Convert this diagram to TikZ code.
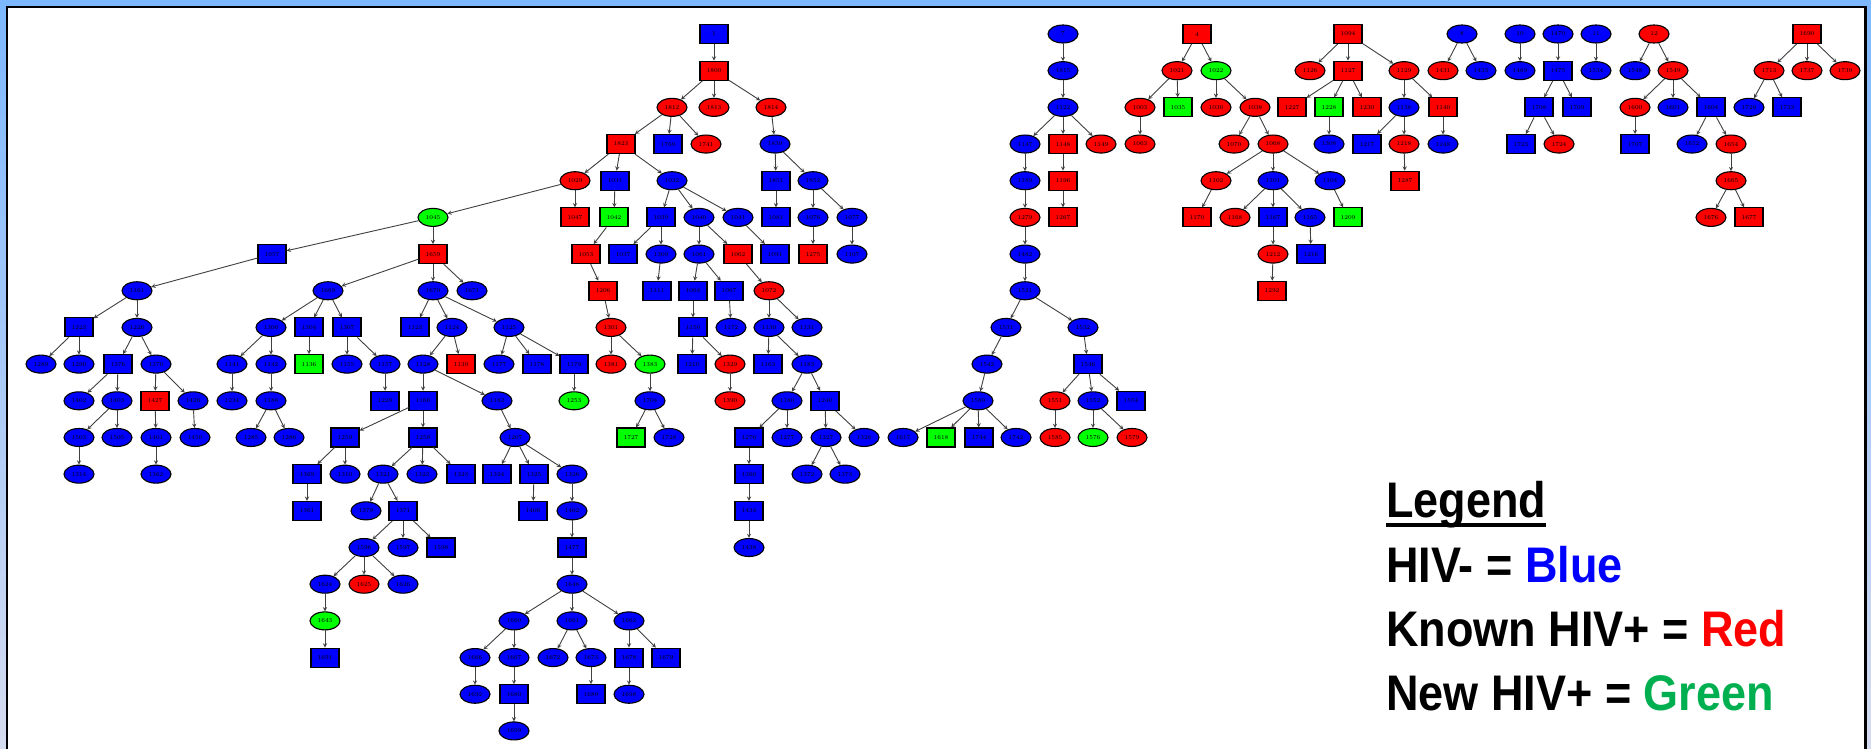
\documentclass[tikz,border=0pt]{standalone}
\usepackage{fontspec}
\newfontfamily\legfont[FakeStretch=0.9]{Liberation Sans}
\usetikzlibrary{shapes.geometric}
\definecolor{hneg}{RGB}{0,0,255}
\definecolor{hpos}{RGB}{255,0,0}
\definecolor{hnew}{RGB}{0,255,0}
\definecolor{legnew}{RGB}{0,176,80}
\definecolor{frametop}{RGB}{125,184,255}
\definecolor{framebot}{RGB}{214,220,240}
\tikzset{
  nd/.style={draw=black,line width=1.1pt,inner sep=0pt,font=\fontsize{6}{6}\selectfont},
  bx/.style={nd,rectangle,minimum width=28pt,minimum height=19pt},
  el/.style={nd,ellipse,minimum width=30pt,minimum height=18pt},
  bb/.style={bx,fill=hneg}, br/.style={bx,fill=hpos}, bg/.style={bx,fill=hnew},
  eb/.style={el,fill=hneg}, er/.style={el,fill=hpos}, eg/.style={el,fill=hnew},
  lnk/.style={->,draw=black!75,line width=0.9pt},
  legtxt/.style={anchor=base west,inner sep=0pt,font=\legfont\bfseries\fontsize{50}{50}\selectfont}
}
\begin{document}
\begin{tikzpicture}[x=1pt,y=-1pt,>=stealth]
\useasboundingbox (0,0) rectangle (1871,749);
% 边框
\shade[top color=frametop,bottom color=framebot] (0,0) rectangle (1871,749);
\fill[white] (7,7) rectangle (1865.5,760);
\draw[line width=2.6pt] (7,760) -- (7,7) -- (1865.5,7) -- (1865.5,760);
% 主树
\foreach \nm/\x/\lv/\st in {
  1/714/0/bb, 1800/714/1/br,
  1812/672/2/er, 1813/714/2/er, 1814/771/2/er,
  1823/621/3/br, 1769/668/3/bb, 1741/706/3/er, 1839/775/3/eb,
  1029/575/4/er, 1031/615/4/bb, 1032/672/4/eb, 1851/776/4/bb, 1852/813/4/eb,
  1045/433/5/eg, 1047/575/5/br, 1042/614/5/bg, 1039/661/5/bb, 1040/699/5/eb,
  1041/738/5/eb, 1081/776/5/bb, 1076/813/5/eb, 1077/852/5/eb,
  1057/272/6/bb, 1659/433/6/br, 1053/586/6/br, 1037/623/6/bb, 1309/661/6/eb,
  1061/699/6/eb, 1062/738/6/br, 1091/775/6/bb, 1275/813/6/br, 1107/852/6/eb,
  1161/137/7/eb, 1669/328/7/eb, 1670/433/7/eb, 1671/472/7/eb, 1206/603/7/br,
  1111/657/7/bb, 1064/693/7/bb, 1067/729/7/bb, 1072/769/7/er,
  1223/79/8/bb, 1226/137/8/eb, 1300/271/8/eb, 1304/309/8/bb, 1307/347/8/bb,
  1123/415/8/bb, 1124/452/8/eb, 1125/509/8/eb, 1301/611/8/er, 1150/693/8/bb,
  1172/731/8/eb, 1130/769/8/eb, 1131/807/8/eb,
  1289/41/9/eb, 1290/79/9/eb, 1376/118/9/bb, 1370/156/9/eb, 1141/232/9/eb,
  1142/271/9/eb, 1136/309/9/bg, 1155/347/9/eb, 1157/385/9/eb, 1128/423/9/eb,
  1139/461/9/br, 1177/499/9/eb, 1178/537/9/bb, 1179/574/9/bb, 1381/611/9/er,
  1383/650/9/eg, 1210/692/9/bb, 1329/730/9/er, 1163/768/9/bb, 1183/807/9/eb,
  1402/79/10/eb, 1403/117/10/eb, 1427/155/10/br, 1426/193/10/eb, 1234/232/10/eb,
  1188/271/10/eb, 1229/385/10/bb, 1166/423/10/bb, 1182/497/10/eb, 1253/574/10/eg,
  1704/650/10/eb, 1390/730/10/er, 1180/787/10/eb, 1240/825/10/bb,
  1503/79/11/eb, 1505/117/11/eb, 1401/156/11/eb, 1450/195/11/eb, 1285/251/11/eb,
  1286/289/11/eb, 1259/345/11/bb, 1258/423/11/bb, 1207/515/11/eb, 1727/631/11/bg,
  1728/669/11/eb, 1276/749/11/bb, 1277/787/11/eb, 1327/826/11/eb, 1328/864/11/eb,
  1314/79/12/eb, 1362/156/12/eb, 1369/307/12/bb, 1310/345/12/eb, 1321/383/12/eb,
  1322/422/12/eb, 1323/461/12/bb, 1324/497/12/bb, 1325/534/12/bb, 1326/572/12/eb,
  1360/749/12/bb, 1372/807/12/eb, 1373/845/12/eb,
  1361/307/13/bb, 1379/366/13/eb, 1371/403/13/bb, 1406/533/13/bb, 1462/572/13/eb,
  1434/749/13/bb,
  1596/364/14/eb, 1597/403/14/eb, 1598/441/14/bb, 1477/572/14/bb, 1438/749/14/eb,
  1624/325/15/eb, 1625/364/15/er, 1626/403/15/eb, 1648/572/15/eb,
  1643/325/16/eg, 1660/514/16/eb, 1661/572/16/eb, 1662/629/16/eb,
  1691/325/17/bb, 1666/475/17/eb, 1667/514/17/eb, 1672/553/17/eb, 1673/591/17/eb,
  1678/629/17/bb, 1679/666/17/bb,
  1692/475/18/eb, 1680/514/18/bb, 1689/591/18/bb, 1698/629/18/eb,
  1699/514/19/eb,
  % 右侧各树
  7/1063/0/eb, 1815/1063/1/eb, 1122/1063/2/eb,
  1147/1025/3/eb, 1148/1063/3/br, 1149/1101/3/er,
  1189/1025/4/eb, 1196/1063/4/br, 1279/1025/5/er, 1267/1063/5/br,
  1482/1025/6/eb, 1521/1025/7/eb, 1531/1006/8/eb, 1532/1083/8/eb,
  1542/987/9/eb, 1546/1088/9/bb,
  1580/978/10/eb, 1551/1055/10/er, 1552/1093/10/eb, 1554/1131/10/bb,
  1617/903/11/eb, 1618/941/11/bg, 1744/979/11/bb, 1742/1016/11/eb,
  1585/1055/11/er, 1576/1093/11/eg, 1579/1132/11/er,
  4/1197/0/br, 1021/1177/1/er, 1022/1216/1/eg,
  1003/1140/2/er, 1035/1178/2/bg, 1030/1216/2/er, 1038/1255/2/er,
  1063/1140/3/er, 1070/1234/3/er, 1068/1273/3/er,
  1102/1216/4/er, 1101/1273/4/eb, 1104/1330/4/eb,
  1170/1197/5/br, 1168/1235/5/er, 1167/1273/5/bb, 1165/1310/5/eb, 1209/1348/5/bg,
  1212/1273/6/er, 1216/1311/6/bb, 1292/1272/7/br,
  1094/1348/0/br, 1126/1310/1/er, 1127/1348/1/br, 1129/1404/1/er,
  1227/1292/2/br, 1228/1329/2/bg, 1230/1367/2/br, 1138/1404/2/eb, 1140/1443/2/br,
  1308/1329/3/eb, 1217/1367/3/bb, 1218/1404/3/er, 1248/1443/3/eb, 1287/1405/4/br,
  8/1462/0/eb, 1431/1443/1/er, 1433/1481/1/eb,
  10/1520/0/eb, 1469/1520/1/eb,
  1470/1558/0/eb, 1475/1558/1/bb, 1708/1539/2/bb, 1709/1577/2/bb,
  1723/1521/3/bb, 1724/1559/3/er,
  11/1596/0/eb, 1534/1596/1/eb,
  12/1654/0/er, 1548/1635/1/eb, 1549/1673/1/er,
  1600/1635/2/er, 1601/1673/2/eb, 1604/1711/2/bb,
  1707/1635/3/bb, 1652/1692/3/eb, 1654/1731/3/er, 1665/1731/4/er,
  1676/1711/5/er, 1677/1749/5/br,
  1690/1807/0/br, 1713/1769/1/er, 1737/1807/1/er, 1739/1845/1/er,
  1729/1749/2/eb, 1733/1787/2/bb}
  \node[\st] (\nm) at (\x,{34+36.68*\lv}) {\nm};
% 连线
\foreach \a/\b in {
  1/1800, 1800/1812, 1800/1813, 1800/1814, 1812/1823, 1812/1769, 1812/1741,
  1814/1839, 1823/1029, 1823/1031, 1823/1032, 1839/1851, 1839/1852,
  1029/1045, 1029/1047, 1031/1042, 1032/1039, 1032/1040, 1032/1041,
  1851/1081, 1852/1076, 1852/1077,
  1045/1057, 1045/1659, 1042/1053, 1039/1037, 1039/1309, 1040/1061, 1040/1062,
  1041/1091, 1076/1275, 1077/1107,
  1057/1161, 1659/1669, 1659/1670, 1659/1671, 1053/1206, 1309/1111,
  1061/1064, 1061/1067, 1062/1072,
  1161/1223, 1161/1226, 1669/1300, 1669/1304, 1669/1307, 1670/1123, 1670/1124,
  1670/1125, 1206/1301, 1064/1150, 1067/1172, 1072/1130, 1072/1131,
  1223/1289, 1223/1290, 1226/1376, 1226/1370, 1300/1141, 1300/1142, 1304/1136,
  1307/1155, 1307/1157, 1124/1128, 1124/1139, 1125/1177, 1125/1178, 1125/1179,
  1301/1381, 1301/1383, 1150/1210, 1150/1329, 1130/1163, 1130/1183,
  1376/1402, 1376/1403, 1370/1427, 1370/1426, 1141/1234, 1142/1188, 1157/1229,
  1128/1166, 1128/1182, 1179/1253, 1383/1704, 1329/1390, 1183/1180, 1183/1240,
  1403/1503, 1403/1505, 1427/1401, 1426/1450, 1188/1285, 1188/1286, 1166/1259,
  1166/1258, 1182/1207, 1704/1727, 1704/1728, 1180/1276, 1180/1277,
  1240/1327, 1240/1328,
  1503/1314, 1401/1362, 1259/1369, 1259/1310, 1258/1321, 1258/1322, 1258/1323,
  1207/1324, 1207/1325, 1207/1326, 1276/1360, 1327/1372, 1327/1373,
  1369/1361, 1321/1379, 1321/1371, 1325/1406, 1326/1462, 1360/1434,
  1371/1596, 1371/1597, 1371/1598, 1462/1477, 1434/1438,
  1596/1624, 1596/1625, 1596/1626, 1477/1648,
  1624/1643, 1648/1660, 1648/1661, 1648/1662,
  1643/1691, 1660/1666, 1660/1667, 1661/1672, 1661/1673, 1662/1678, 1662/1679,
  1666/1692, 1667/1680, 1673/1689, 1678/1698, 1680/1699,
  7/1815, 1815/1122, 1122/1147, 1122/1148, 1122/1149, 1147/1189, 1148/1196,
  1189/1279, 1196/1267, 1279/1482, 1482/1521, 1521/1531, 1521/1532,
  1531/1542, 1532/1546, 1542/1580, 1546/1551, 1546/1552, 1546/1554,
  1580/1617, 1580/1618, 1580/1744, 1580/1742, 1551/1585, 1552/1576, 1552/1579,
  4/1021, 4/1022, 1021/1003, 1021/1035, 1022/1030, 1022/1038, 1003/1063,
  1038/1070, 1038/1068, 1068/1102, 1068/1101, 1068/1104, 1102/1170,
  1101/1168, 1101/1167, 1101/1165, 1104/1209, 1167/1212, 1165/1216, 1212/1292,
  1094/1126, 1094/1127, 1094/1129, 1127/1227, 1127/1228, 1127/1230,
  1129/1138, 1129/1140, 1228/1308, 1138/1217, 1138/1218, 1140/1248, 1218/1287,
  8/1431, 8/1433, 10/1469, 1470/1475, 1475/1708, 1475/1709, 1708/1723, 1708/1724,
  11/1534, 12/1548, 12/1549, 1549/1600, 1549/1601, 1549/1604, 1600/1707,
  1604/1652, 1604/1654, 1654/1665, 1665/1676, 1665/1677,
  1690/1713, 1690/1737, 1690/1739, 1713/1729, 1713/1733}
  \draw[lnk] (\a) -- (\b);
% 图例
\node[legtxt] (leg) at (1386,517) {Legend};
\draw[line width=4pt] ([yshift=-8pt]leg.base west) -- ([yshift=-8pt]leg.base east);
\node[legtxt] (lneg) at (1386,582) {HIV- = \textcolor{hneg}{Blue}};
\node[legtxt] (lpos) at (1386,646) {Known HIV+ = \textcolor{hpos}{Red}};
\node[legtxt] (lnew) at (1386,710) {New HIV+ = \textcolor{legnew}{Green}};
\end{tikzpicture}
\end{document}
